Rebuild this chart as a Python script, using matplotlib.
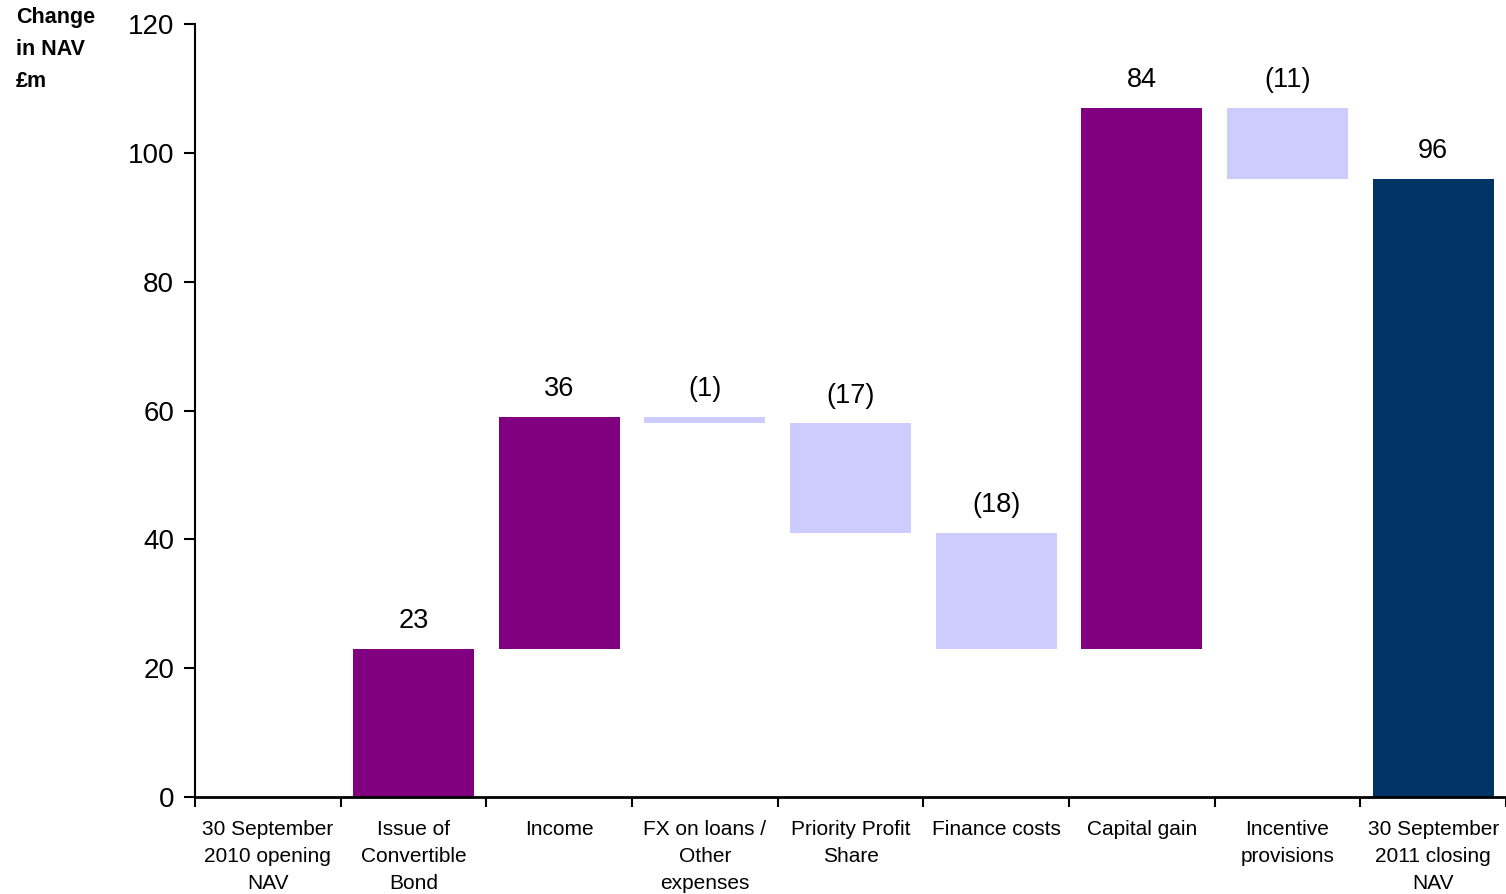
import matplotlib
matplotlib.use("Agg")
import matplotlib.pyplot as plt
import numpy as np

plt.rcParams['font.family'] = ['Liberation Sans', 'DejaVu Sans']

categories = [
    "30 September\n2010 opening\nNAV",
    "Issue of\nConvertible\nBond",
    "Income",
    "FX on loans /\nOther\nexpenses",
    "Priority Profit\nShare",
    "Finance costs",
    "Capital gain",
    "Incentive\nprovisions",
    "30 September\n2011 closing\nNAV",
]
changes = [0, 23, 36, -1, -17, -18, 84, -11]
closing_nav = 96
value_labels = ["", "23", "36", "(1)", "(17)", "(18)", "84", "(11)", "96"]
yticks = [0, 20, 40, 60, 80, 100, 120]

purple = "#800080"
lavender = "#CCCCFF"
navy = "#003366"

# waterfall geometry from the running total
bottoms, heights, colors = [], [], []
running = 0
for i, c in enumerate(changes):
    if i == 0:
        bottoms.append(0)
        heights.append(running)
        colors.append(navy)
        continue
    start = running
    running += c
    bottoms.append(min(start, running))
    heights.append(abs(c))
    colors.append(purple if c > 0 else lavender)
bottoms.append(0)
heights.append(closing_nav)
colors.append(navy)

W, H = 1506, 894
fig = plt.figure(figsize=(W / 100, H / 100), dpi=100)
ax = fig.add_axes([195 / W, (H - 797) / H, 1311 / W, 773 / H])

x = np.arange(len(categories))
ax.bar(x, heights, bottom=bottoms, width=0.83, color=colors, linewidth=0)

for xi, b, h, lab in zip(x, bottoms, heights, value_labels):
    if not lab:
        continue
    ax.annotate(lab, (xi, b + h), xytext=(0, 20), textcoords="offset points",
                ha="center", va="center", fontsize=19.5)

ax.set_xlim(-0.5, len(categories) - 0.5)
ax.set_ylim(0, 120)
ax.set_yticks(yticks)
ax.tick_params(axis="y", labelsize=20, length=8, width=1.5, pad=7, direction="out")

# category labels centred, tick marks between categories
ax.set_xticks(np.arange(len(categories) + 1) - 0.5)
ax.set_xticklabels([])
ax.tick_params(axis="x", length=7, width=1.5, direction="out")
for xi, lab in zip(x, categories):
    ax.text(xi, -3.6, lab, ha="center", va="top", fontsize=15,
            linespacing=1.52)

for s in ["top", "right"]:
    ax.spines[s].set_visible(False)
ax.spines["left"].set_linewidth(1.5)
ax.spines["bottom"].set_linewidth(2)

fig.text(16 / W, 1 - 7 / H, "Change\nin NAV\n£m", ha="left", va="top",
         fontsize=15.5, fontweight="bold", linespacing=1.68)

fig.savefig("out.png", dpi=100)
